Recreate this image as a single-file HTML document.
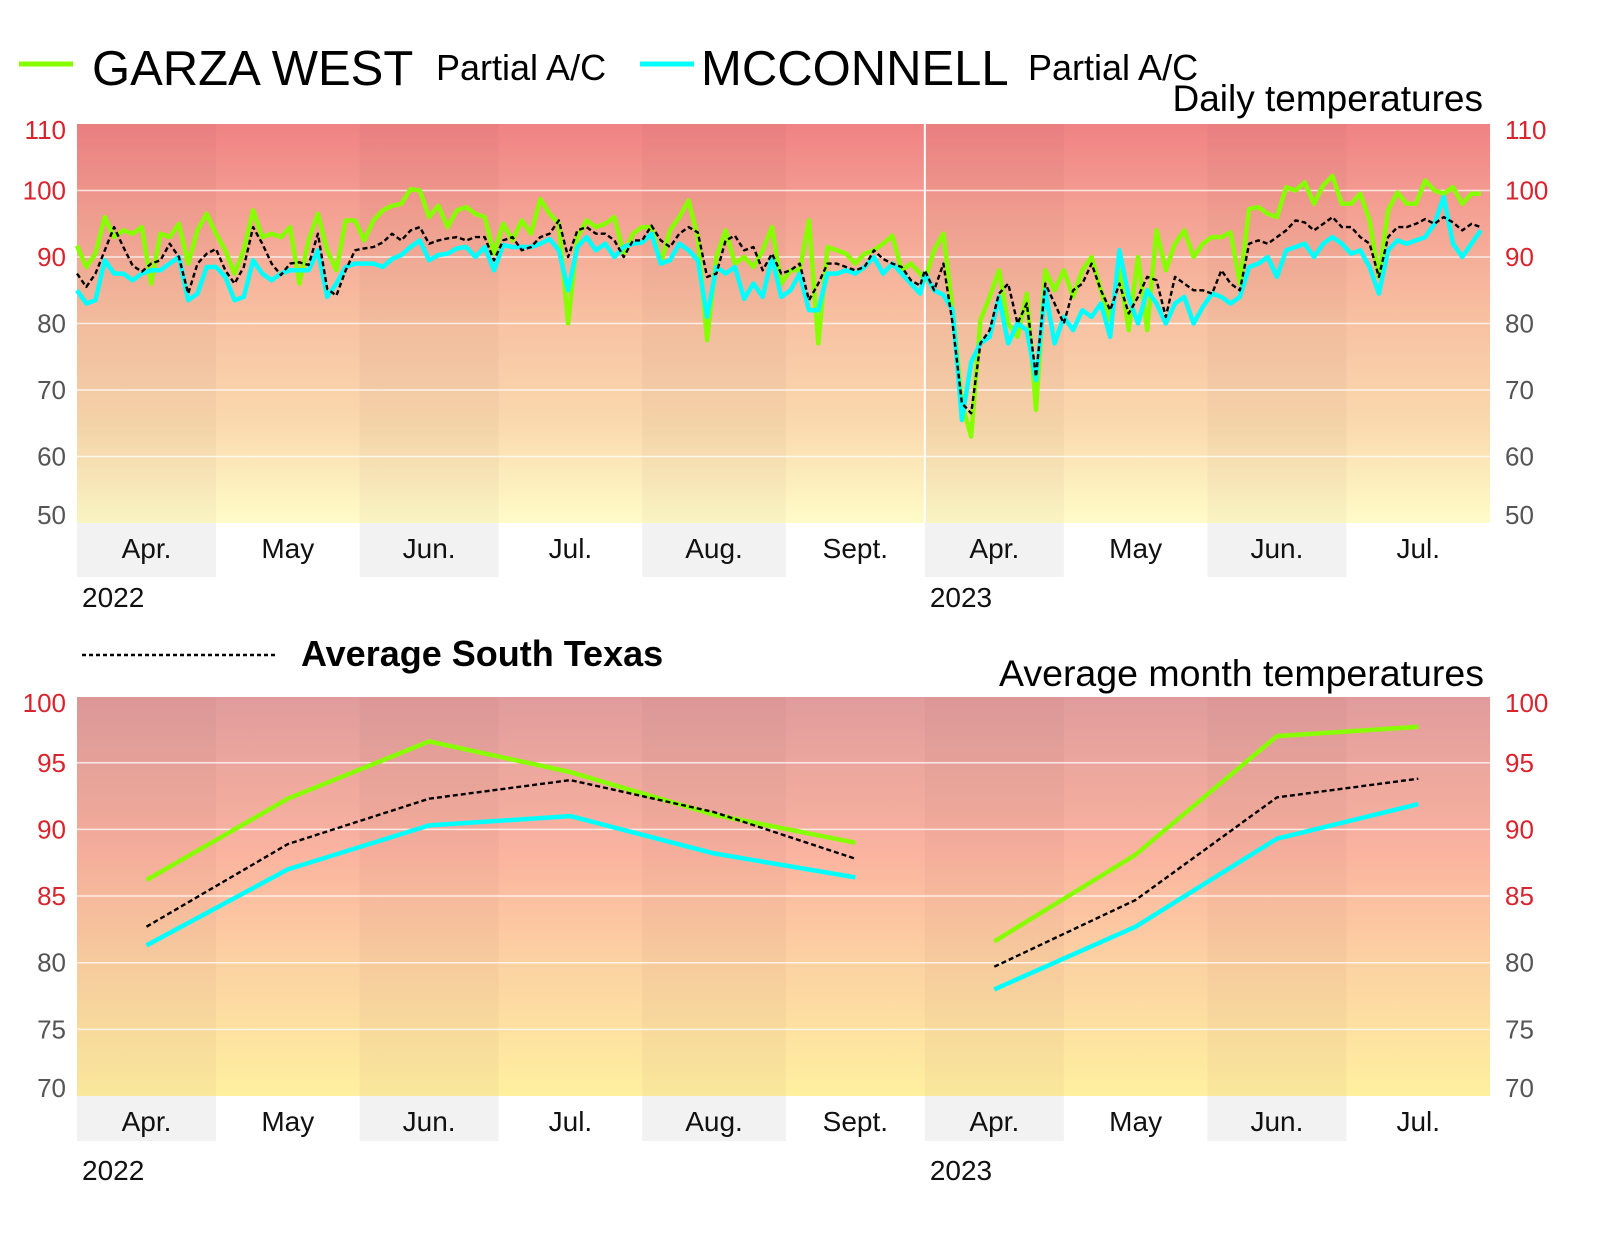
<!DOCTYPE html>
<html><head><meta charset="utf-8"><title>Temperatures</title>
<style>
html,body{margin:0;padding:0;background:#fff}
svg{display:block;font-family:"Liberation Sans",Arial,sans-serif}
</style></head>
<body>
<svg id="chart" width="1600" height="1233" viewBox="0 0 1600 1233" xmlns="http://www.w3.org/2000/svg">
<defs>
<linearGradient id="gTop" x1="0" y1="0" x2="0" y2="1">
<stop offset="0" stop-color="#f08284"/>
<stop offset="0.2" stop-color="#f49e92"/>
<stop offset="0.5" stop-color="#f8c2a2"/>
<stop offset="0.75" stop-color="#fad9ae"/>
<stop offset="1" stop-color="#fffcc8"/>
</linearGradient>
<linearGradient id="gBot" x1="0" y1="0" x2="0" y2="1">
<stop offset="0" stop-color="#e09c9c"/>
<stop offset="0.4" stop-color="#fbb4a0"/>
<stop offset="0.65" stop-color="#fcd0a2"/>
<stop offset="1" stop-color="#fff0a0"/>
</linearGradient>
</defs>
<g>
<line x1="19" y1="64" x2="73" y2="64" stroke="#88ff00" stroke-width="5"/>
<text x="92" y="85" font-size="49">GARZA WEST</text>
<text x="436" y="80" font-size="36">Partial A/C</text>
<line x1="640" y1="64" x2="694" y2="64" stroke="#00ffff" stroke-width="5"/>
<text x="701" y="85" font-size="49">MCCONNELL</text>
<text x="1028" y="80" font-size="36">Partial A/C</text>
</g>
<text x="1483" y="111" font-size="37" text-anchor="end">Daily temperatures</text>
<line x1="82" y1="655" x2="276" y2="655" stroke="#000" stroke-width="2.5" stroke-dasharray="4,3"/>
<text x="301" y="666" font-size="36" font-weight="bold">Average South Texas</text>
<text x="1484" y="686" font-size="37.5" text-anchor="end">Average month temperatures</text>
<g id="topG"></g>
<g id="botG"></g>
</svg>
<script>
// ---- data ----
const months = ["Apr.","May","Jun.","Jul.","Aug.","Sept.","Apr.","May","Jun.","Jul."];
const monthDays = [30,31,30,31,31,30,30,31,30,31];
const years = ["2022","2023"];
const topTicks = [110,100,90,80,70,60,50];
const botTicks = [100,95,90,85,80,75,70];
const sampleStep = 2;
// daily (every 2 days) 2022 Apr 1 - Sep 30
const garza2022 = [91.7,88.5,90.5,96,93,94,93.5,94.5,86,93.5,93,95,89,94,96.5,93.5,91,87.5,91,97,93,93.5,93,94.5,86,92.5,96.5,91,88,95.5,95.5,92.5,95.5,97,97.7,98,100.2,100,96,97.7,94.5,97,97.5,96.5,96,90.5,95,
92.5,95.5,93.5,98.7,96.5,95,80,93,95.5,94.5,95,96,90.5,93.5,94.5,94.5,89,94,96,98.5,93,77.5,90,94,89,90,88.5,91,94.5,86,88,88,95.5,77,91.5,91,90.5,89,90.5,91,92,93.2,88,89,87.5];
const avg2022 = [87.5,85.5,87.5,91,94.5,91.5,88.7,87.8,89,89.5,92,90,84.5,89,90.5,91.2,88,86,88.5,94.5,92,89,87.3,89,89.2,88.8,93.5,85.2,84.2,88,91,91.3,91.5,92.2,93.5,92.5,94,94.5,92,92.5,92.8,93,92.5,93,93,89.5,92.5,
93,91,91.5,93,93.5,95.5,90,94,94.5,93.5,93.5,92.5,90,92.5,92.5,94.7,92.5,91.5,93.5,94.5,93.7,87,87.5,92.5,93.2,91,91.5,88,90.5,87.5,88,89,83.5,86,89,89,88.5,88,88.5,91,89.7,89,88.5,86.5,85.7];
const mcc2022 = [85,83,83.5,89.5,87.5,87.5,86.5,87.5,88,88,89,90,83.5,84.5,88.5,88.5,87,83.5,84,89.5,87.5,86.5,87.5,88,88,88,91,84,86,88.5,89,89,89,88.5,89.7,90.3,91.5,92.5,89.5,90.3,90.5,91.3,91.5,90,91.5,88,91.8,
91.5,91.5,91.5,92,92.7,91,85,91.5,93,91,92,90,91.5,92,92.2,93.5,89,89.5,92,91,89.5,81,88.5,87.5,88.5,83.7,86,84,90,84,85,87.5,82,82,87.5,87.5,88,87.5,88.5,90,87.5,89,87.5,86,84.5];
// daily (every 2 days) 2023 Apr 1 - Jul 31
const garza2023 = [86.5,91,93.5,82,68,63,80.5,84,88,80,78,84.5,67,88,85,88,84,88,90,85,80.5,88,79,90,79,94,88,92,94,90,92,93,93,93.7,86,97.2,97.5,96.5,96,100.5,100,101.2,98,100.8,102.2,98,98,99.5,95.5,87,97,99.7,98,98,101.5,100,99.5,100.5,98,99.5,99.5];
const avg2023 = [88,85,89,80,68,66.5,77,79,84.5,86,80,83,72,86,83,80,85,86,89,85,82,86,81.5,84,87,86.5,81,87,86,85,85,84.5,88,86,85,92,92.5,92,93,94,95.5,95.2,94,95,96,94.5,94.5,93,92,87,93,94.5,94.5,95,95.7,95,96,95.2,94,95,94.5];
const mcc2023 = [87.5,85,84.3,82,65.5,74.2,77,78,84,77,80,79,71.5,85,77,81,79,82,81,83,78,91,84,80,85,83,80,83,84,80,82.5,84.5,84,83,84,88.5,89,90,87,91,91.5,92,90,92,93,92,90.5,91,88.5,84.5,91,92.5,92,92.5,93,95,99,92,90,92,94];
// monthly averages
const garzaMonthly2022 = [86.2,92.3,96.6,94.3,91.1,89.0];
const avgMonthly2022 = [82.7,88.9,92.3,93.7,91.3,87.8];
const mccMonthly2022 = [81.3,87.0,90.3,91.0,88.2,86.4];
const garzaMonthly2023 = [81.6,88.1,97.0,97.7];
const avgMonthly2023 = [79.7,84.7,92.4,93.8];
const mccMonthly2023 = [78.0,82.7,89.3,91.9];

// ---- layout ----
const NS="http://www.w3.org/2000/svg";
const X0=77, DPX=4.633;
const xDay=d=>X0+d*DPX;
const yTop=v=>523-(v-50)*6.65;
const yBot=v=>1096-(v-70)*13.33;
const days2022=monthDays.slice(0,6).reduce((a,b)=>a+b,0);
const monthStart=[];{let s=0;for(const m of monthDays){monthStart.push(s);s+=m;}}
const X1=xDay(monthStart[9]+monthDays[9]);
function el(tag,attrs,parent){const e=document.createElementNS(NS,tag);for(const k in attrs)e.setAttribute(k,attrs[k]);parent.appendChild(e);return e;}

function panel(g,top,bot,grad,yF,ticks,redMin,bandTop,bandBot,monthBase,yearBase,name){
  el('rect',{x:X0,y:top,width:X1-X0,height:bot-top,fill:'url(#'+grad+')'},g);
  for(let i=0;i<10;i++){
    const x=xDay(monthStart[i]),w=monthDays[i]*DPX;
    if(i%2===0){
      const r=el('rect',{x:x,y:top,width:w,height:bot-top,fill:'rgba(90,40,30,0.035)'},g);
      
      
      const b=el('rect',{x:x,y:bandTop,width:w,height:bandBot-bandTop,fill:'#f2f2f2'},g);
      
      
    }
    const t=el('text',{x:x+w/2,y:monthBase,'font-size':28,'text-anchor':'middle',fill:'#111'},g);
    t.textContent=months[i];
    
    
  }
  [0,6].forEach((mi,k)=>{
    const t=el('text',{x:xDay(monthStart[mi])+5,y:yearBase,'font-size':28,fill:'#111'},g);
    t.textContent=years[k];
    
    
  });
  ticks.forEach(v=>{
    const y=yF(v);
    if(y>top+2&&y<bot-2){
      const l=el('line',{x1:X0,x2:X1,y1:y,y2:y,stroke:'rgba(255,255,255,0.75)','stroke-width':1.5},g);
      
      
    }
    const col=v>=redMin?'#d9232d':'#555';
    const ly=Math.min(Math.max(y,top+6),bot-8);
    const a=el('text',{x:66,y:ly+9,'font-size':26,'text-anchor':'end',fill:col},g);
    a.textContent=v;
    
    
    const b=el('text',{x:1505,y:ly+9,'font-size':26,fill:col},g);
    b.textContent=v;
    
    
  });
}
function line(g,pts,color,w,dash,name){
  const p=el('polyline',{points:pts.map(q=>q[0].toFixed(1)+','+q[1].toFixed(1)).join(' '),fill:'none',stroke:color,'stroke-width':w,'stroke-linejoin':'round'},g);
  if(dash)p.setAttribute('stroke-dasharray',dash);
  
  
}
const topG=document.getElementById('topG');
const botG=document.getElementById('botG');
panel(topG,124,523,'gTop',yTop,topTicks,90,523,577,558,607,'daily');
el('line',{x1:xDay(days2022),x2:xDay(days2022),y1:124,y2:523,stroke:'#fff','stroke-width':2},topG);
panel(botG,697,1096,'gBot',yBot,botTicks,85,1096,1141,1131,1180,'monthly');

function dailyPts(a22,a23){
  const pts=[];
  a22.forEach((v,i)=>pts.push([xDay(i*sampleStep),yTop(v)]));
  a23.forEach((v,i)=>pts.push([xDay(days2022+i*sampleStep),yTop(v)]));
  return pts;
}
line(topG,dailyPts(garza2022,garza2023),'#88ff00',4.5,null,'garza-daily-line');
line(topG,dailyPts(mcc2022,mcc2023),'#00ffff',4.5,null,'mcconnell-daily-line');
line(topG,dailyPts(avg2022,avg2023),'#000',2.4,'5,3','average-daily-line');

function monthPts(arr,offset){return arr.map((v,i)=>{const m=offset+i;return [xDay(monthStart[m]+monthDays[m]/2),yBot(v)];});}
line(botG,monthPts(garzaMonthly2022,0),'#88ff00',4.5,null,'garza-monthly-2022');
line(botG,monthPts(garzaMonthly2023,6),'#88ff00',4.5,null,'garza-monthly-2023');
line(botG,monthPts(mccMonthly2022,0),'#00ffff',4.5,null,'mcconnell-monthly-2022');
line(botG,monthPts(mccMonthly2023,6),'#00ffff',4.5,null,'mcconnell-monthly-2023');
line(botG,monthPts(avgMonthly2022,0),'#000',2.4,'5,3','average-monthly-2022');
line(botG,monthPts(avgMonthly2023,6),'#000',2.4,'5,3','average-monthly-2023');
</script>
</body></html>
